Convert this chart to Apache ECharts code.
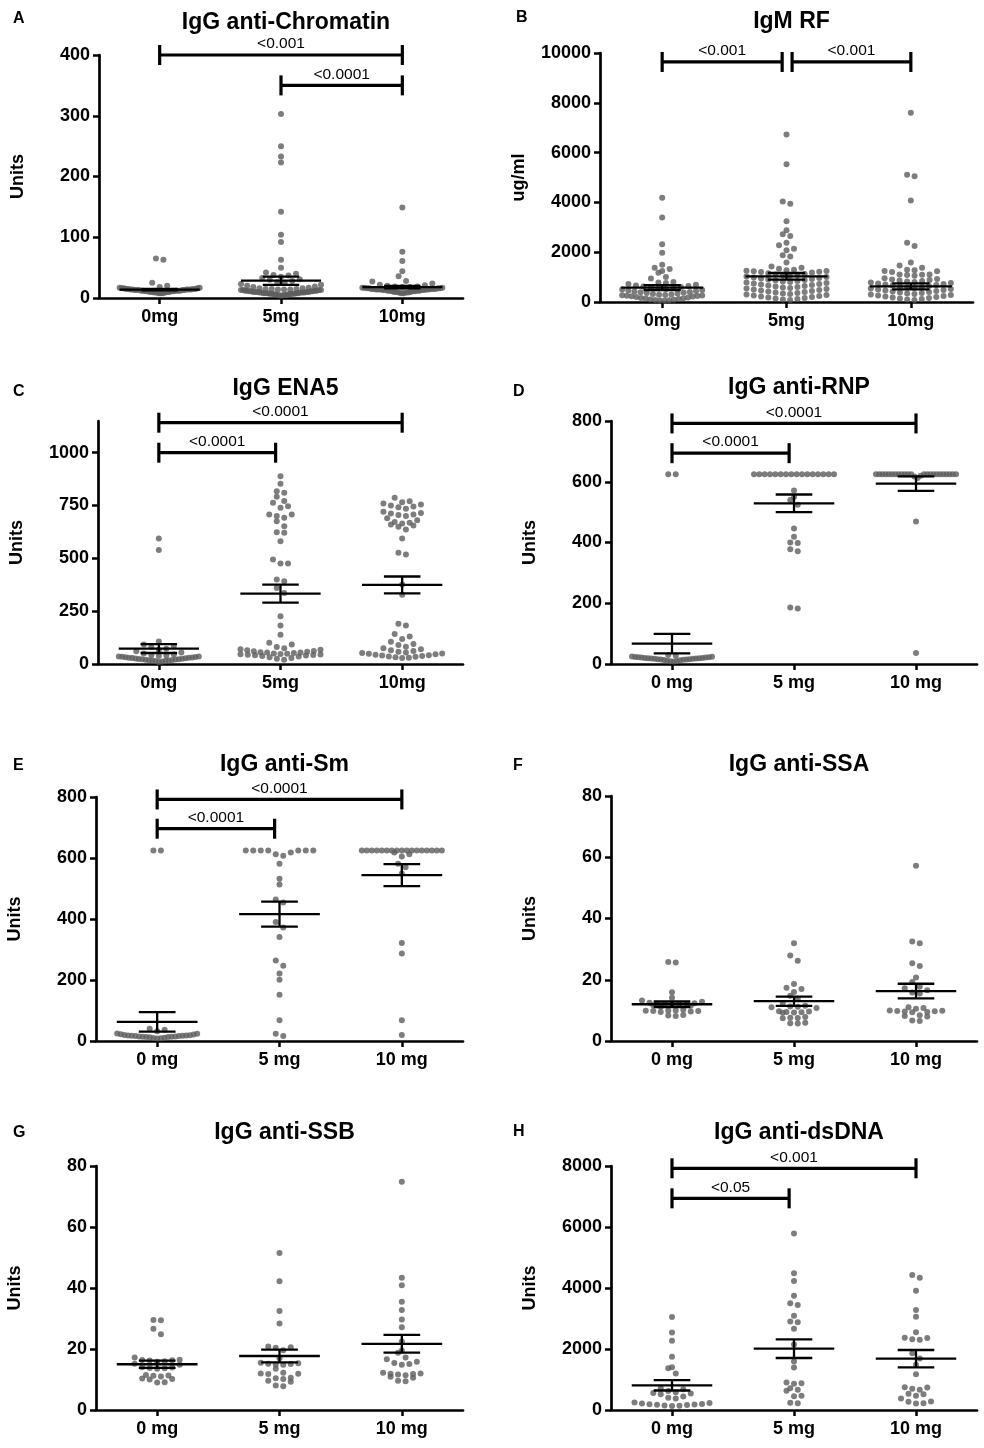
<!DOCTYPE html>
<html>
<head>
<meta charset="utf-8"/>
<script src="https://cdn.jsdelivr.net/npm/echarts@6/dist/echarts.min.js"></script>
<style>
html,body{margin:0;padding:0;background:#fff;}
#chart{width:984px;height:1448px;}
</style>
</head>
<body>
<div id="chart"></div>
<script>
// ---- data ----
var catsMg = ['0mg', '5mg', '10mg'];
var catsSp = ['0 mg', '5 mg', '10 mg'];

// A  IgG anti-Chromatin
var a0 = [65, 63, 25, 20, 18, 17, 17, 16, 16, 16, 15, 15, 15, 15, 14, 14, 14, 14, 14, 13, 13, 13, 13, 13, 12, 12, 12, 12, 12, 11, 11, 11, 11, 10, 10, 10, 10, 9, 9, 9, 8, 8, 8];
var a5 = [303, 250, 233, 223, 142, 104, 92, 63, 50, 42, 40, 38, 37, 35, 33, 31, 30, 28, 26, 25, 23, 22, 20, 19, 18, 17, 16, 16, 15, 15, 15, 14, 14, 14, 13, 13, 13, 13, 12, 12, 12, 12, 11, 11, 11, 11, 10, 10, 10, 10, 10, 9, 9, 9, 9, 9, 8, 8, 8, 8, 8, 7, 7, 7, 7, 6, 6, 6, 6, 5, 5, 5, 4, 4];
var a10 = [149, 76, 61, 44, 36, 28, 27, 24, 22, 21, 20, 19, 19, 18, 18, 17, 17, 17, 16, 16, 16, 16, 15, 15, 15, 15, 15, 14, 14, 14, 14, 14, 13, 13, 13, 13, 12, 12, 12, 12, 11, 11, 11, 10, 10, 10, 9, 9, 9, 8, 8];
var meanA = [13.7, 28.5, 18];
var semA = [1.3, 6.8, 2];
var brA = [[0, 2, 400], [1, 2, 350]];
var pA = ['<0.001', '<0.0001'];
var ticksA = [0, 100, 200, 300, 400];

// B  IgM RF
var b0 = [4190, 3390, 2320, 1980, 1500, 1380, 1330, 1250, 1170, 1000, 940, 800, 780, 760, 720, 690, 660, 640, 620, 600, 580, 560, 540, 520, 500, 480, 460, 440, 420, 400, 390, 380, 360, 340, 320, 300, 290, 280, 270, 260, 250, 240, 230, 220, 200, 180, 160, 150, 140, 120, 100, 90, 80, 70, 60, 50];
var b5 = [6730, 5530, 4040, 3950, 3240, 2880, 2720, 2650, 2380, 2280, 2140, 2080, 1880, 1830, 1590, 1430, 1380, 1340, 1300, 1280, 1260, 1250, 1230, 1210, 1200, 1180, 1150, 1120, 1100, 1080, 1060, 1040, 1020, 1000, 980, 960, 940, 920, 900, 880, 860, 840, 820, 800, 780, 760, 740, 720, 700, 680, 660, 640, 620, 600, 580, 560, 540, 520, 500, 480, 460, 440, 420, 400, 380, 360, 340, 320, 300, 280, 260, 240, 220, 200, 180, 160, 140, 120, 100, 80];
var b10 = [7600, 5110, 5050, 4080, 2380, 2250, 1590, 1470, 1380, 1300, 1280, 1250, 1230, 1200, 1100, 1100, 1090, 1080, 1050, 950, 920, 900, 880, 860, 840, 820, 800, 780, 760, 740, 720, 700, 680, 660, 640, 620, 600, 580, 560, 540, 520, 500, 480, 460, 440, 420, 400, 380, 360, 340, 320, 300, 280, 260, 240, 220, 200, 180, 160, 140, 120, 100, 80];
var meanB = [575, 1030, 630];
var semB = [100, 135, 120];
var brB = [[0, 0.965, 9640], [1.045, 2, 9640]];
var pB = ['<0.001', '<0.001'];
var ticksB = [0, 2000, 4000, 6000, 8000, 10000];

// C  IgG ENA5
var c0 = [594, 540, 106, 92, 85, 80, 72, 68, 60, 55, 50, 45, 42, 40, 38, 36, 35, 34, 33, 32, 31, 30, 29, 28, 27, 26, 25, 24, 23, 22, 21, 20, 19, 18, 17, 16, 15, 14, 12, 10];
var c5 = [889, 853, 818, 810, 791, 771, 763, 747, 739, 708, 708, 700, 692, 676, 652, 624, 621, 581, 494, 476, 476, 400, 392, 360, 336, 226, 182, 139, 100, 92, 80, 75, 70, 68, 65, 62, 60, 58, 56, 55, 54, 52, 50, 48, 47, 46, 45, 44, 43, 42, 40, 38, 35, 32, 28, 25, 20];
var c10 = [787, 770, 765, 760, 755, 750, 745, 742, 735, 720, 715, 712, 708, 705, 700, 690, 680, 672, 668, 665, 660, 655, 650, 637, 594, 526, 518, 376, 328, 190, 182, 142, 130, 118, 105, 95, 90, 82, 75, 70, 65, 62, 58, 55, 52, 50, 48, 46, 44, 42, 40, 38, 36, 34, 32, 30, 28];
var meanC = [73, 333, 374];
var semC = [21, 43, 40];
var brC = [[0, 2, 1142], [0, 0.96, 1000]];
var pC = ['<0.0001', '<0.0001'];
var ticksC = [0, 250, 500, 750, 1000];

// D  IgG anti-RNP
var d0 = [625, 625, 30, 27, 25, 24, 23, 22, 22, 21, 21, 20, 20, 19, 19, 18, 18, 17, 17, 16, 16, 15, 15, 14, 13, 12, 11, 10, 9, 8];
var d5 = [625, 625, 625, 625, 625, 625, 625, 625, 625, 625, 625, 625, 625, 625, 625, 625, 571, 550, 540, 524, 446, 419, 400, 398, 378, 371, 186, 183];
var d10 = [625, 625, 625, 625, 625, 625, 625, 625, 625, 625, 625, 625, 625, 625, 625, 625, 625, 625, 625, 625, 625, 625, 625, 620, 617, 612, 469, 36];
var meanD = [67, 529, 594];
var semD = [32, 29, 24];
var brD = [[0, 2, 792], [0, 0.96, 694]];
var pD = ['<0.0001', '<0.0001'];
var ticksD = [0, 200, 400, 600, 800];

// E  IgG anti-Sm
var e0 = [625, 625, 40, 37, 32, 25, 24, 22, 21, 20, 19, 18, 18, 17, 17, 16, 16, 15, 15, 14, 14, 13, 13, 12, 11, 10, 9, 8];
var e5 = [625, 625, 625, 625, 625, 625, 625, 618, 612, 607, 581, 532, 513, 464, 454, 390, 372, 341, 264, 247, 221, 201, 152, 68, 24, 16];
var e10 = [625, 625, 625, 625, 625, 625, 625, 625, 625, 625, 625, 625, 625, 625, 625, 625, 625, 618, 612, 605, 581, 570, 549, 321, 287, 68, 20];
var meanE = [63, 416, 544];
var semE = [32, 41, 36];
var brE = [[0, 2, 792], [0, 0.96, 696]];
var pE = ['<0.0001', '<0.0001'];
var ticksE = [0, 200, 400, 600, 800];

// F  IgG anti-SSA
var f0 = [25.8, 25.6, 15.9, 14.1, 13.2, 12.8, 12.5, 12.3, 12.2, 12.1, 12.0, 11.9, 11.8, 11.7, 11.5, 11.2, 10.2, 10.0, 10.0, 9.9, 9.8, 9.8, 9.6, 9.5, 8.5, 8.3, 8.2];
var f5 = [31.9, 27.9, 26.2, 18.6, 17.4, 17.0, 16.0, 14.8, 13.8, 12.4, 11.5, 11.3, 11.2, 11.0, 10.8, 9.7, 9.6, 9.5, 9.4, 9.3, 9.2, 7.8, 7.6, 7.5, 7.4, 6.0, 5.8, 5.7];
var f10 = [57.2, 32.5, 31.9, 25.4, 24.5, 20.7, 19.3, 17.7, 17.2, 16.6, 15.8, 15.5, 11.0, 10.8, 10.5, 10.0, 9.9, 9.8, 9.7, 9.6, 9.5, 9.4, 8.4, 8.2, 8.0, 6.7, 6.5];
var meanF = [12.0, 13.0, 16.3];
var semF = [0.9, 1.5, 2.4];
var ticksF = [0, 20, 40, 60, 80];

// G  IgG anti-SSB
var g0 = [29.5, 29.4, 26.6, 24.8, 17.2, 16.5, 16.4, 16.3, 16.2, 16.0, 15.8, 15.2, 14.8, 14.0, 13.9, 13.8, 13.7, 13.5, 11.5, 11.3, 11.2, 11.0, 10.3, 10.2, 10.0, 9.1, 9.0];
var g5 = [51.5, 42.2, 32.5, 28.4, 20.8, 20.6, 20.4, 19.6, 17.0, 15.5, 15.3, 15.2, 15.1, 14.9, 14.8, 13.5, 12.2, 12.0, 11.9, 11.8, 10.6, 10.4, 10.2, 9.6, 9.3, 8.0, 7.8];
var g10 = [74.8, 43.4, 40.9, 35.5, 32.8, 29.7, 27.1, 22.5, 19.5, 18.8, 17.2, 16.6, 15.8, 15.4, 15.1, 14.8, 12.2, 12.0, 11.9, 11.8, 11.6, 11.4, 10.9, 10.6, 9.6, 9.4];
var meanG = [15.0, 17.7, 21.7];
var semG = [1.2, 2.1, 2.9];
var ticksG = [0, 20, 40, 60, 80];

// H  IgG anti-dsDNA
var h0 = [3050, 2540, 2270, 1750, 1400, 1370, 1200, 710, 680, 620, 580, 560, 540, 520, 440, 400, 380, 250, 230, 210, 200, 190, 180, 170, 160, 150, 140, 130];
var h5 = [5790, 4480, 4230, 3750, 3500, 3440, 3090, 2900, 2880, 2660, 2150, 1590, 1390, 900, 880, 860, 710, 660, 630, 470, 450, 240, 220];
var h10 = [4430, 4340, 3910, 3280, 3060, 2550, 2370, 2360, 2320, 2300, 1860, 1690, 1480, 1170, 750, 740, 700, 660, 530, 520, 470, 380, 280, 270, 220, 210];
var meanH = [809, 2011, 1683];
var semH = [170, 306, 284];
var brH = [[0, 2, 7925], [0, 0.96, 6940]];
var pH = ['<0.001', '<0.05'];
var ticksH = [0, 2000, 4000, 6000, 8000];

// ---- layout ----
var FONT = 'Arial, "Liberation Sans", sans-serif';
var DOT = 6;         // dot diameter px
var ROWH = 5.5;      // height of one row bin, px
var STEP = 7.5;      // spacing of dots inside a row, px
var MAXHALF = 40;    // widest half-spread of a row, px

var panels = [
  {letter: 'A', title: 'IgG anti-Chromatin', yname: 'Units', cats: catsMg, groups: [a0, a5, a10], mean: meanA, sem: semA, br: brA, p: pA, ticks: ticksA, ymax: 400,
   grid: {left: 99, top: 55, width: 364, height: 243}, lx: 8, ly: 6, ty: 6},
  {letter: 'B', title: 'IgM RF', yname: 'ug/ml', cats: catsMg, groups: [b0, b5, b10], mean: meanB, sem: semB, br: brB, p: pB, ticks: ticksB, ymax: 10000,
   grid: {left: 600, top: 53, width: 373, height: 249}, lx: 511, ly: 5, ty: 5},
  {letter: 'C', title: 'IgG ENA5', yname: 'Units', cats: catsMg, groups: [c0, c5, c10], mean: meanC, sem: semC, br: brC, p: pC, ticks: ticksC, ymax: 1150,
   grid: {left: 98, top: 421, width: 365, height: 243}, lx: 8, ly: 379, ty: 372},
  {letter: 'D', title: 'IgG anti-RNP', yname: 'Units', cats: catsSp, groups: [d0, d5, d10], mean: meanD, sem: semD, br: brD, p: pD, ticks: ticksD, ymax: 800,
   grid: {left: 611, top: 421, width: 366, height: 243}, lx: 508, ly: 379, ty: 371},
  {letter: 'E', title: 'IgG anti-Sm', yname: 'Units', cats: catsSp, groups: [e0, e5, e10], mean: meanE, sem: semE, br: brE, p: pE, ticks: ticksE, ymax: 800,
   grid: {left: 96, top: 797, width: 367, height: 244}, lx: 8, ly: 753, ty: 748},
  {letter: 'F', title: 'IgG anti-SSA', yname: 'Units', cats: catsSp, groups: [f0, f5, f10], mean: meanF, sem: semF, br: null, p: null, ticks: ticksF, ymax: 80,
   grid: {left: 611, top: 796, width: 366, height: 245}, lx: 508, ly: 753, ty: 748},
  {letter: 'G', title: 'IgG anti-SSB', yname: 'Units', cats: catsSp, groups: [g0, g5, g10], mean: meanG, sem: semG, br: null, p: null, ticks: ticksG, ymax: 80,
   grid: {left: 96, top: 1166, width: 367, height: 244}, lx: 8, ly: 1120, ty: 1116},
  {letter: 'H', title: 'IgG anti-dsDNA', yname: 'Units', cats: catsSp, groups: [h0, h5, h10], mean: meanH, sem: semH, br: brH, p: pH, ticks: ticksH, ymax: 8000,
   grid: {left: 611, top: 1166, width: 366, height: 244}, lx: 508, ly: 1119, ty: 1116}
];

// GraphPad-like column scatter: values binned into rows, each row spread
// out from the centre (lowest value in the middle)
function swarm(vals, cx, grid, ymax) {
  var pyu = grid.height / ymax;
  var pxu = grid.width / 3;
  var sorted = vals.slice().sort(function (a, b) { return a - b; });
  var rows = [], cur = null;
  sorted.forEach(function (v) {
    if (!cur || (v - cur[0]) * pyu > ROWH) { cur = []; rows.push(cur); }
    cur.push(v);
  });
  var out = [];
  rows.forEach(function (r) {
    var n = r.length;
    var step = n > 1 ? Math.min(STEP, 2 * MAXHALF / (n - 1)) : 0;
    var slots = [];
    for (var j = 0; j < n; j++) slots.push((j - (n - 1) / 2) * step);
    slots.sort(function (a, b) { return Math.abs(a) - Math.abs(b) || b - a; });
    for (var i = 0; i < n; i++) out.push([cx + slots[i] / pxu, r[i]]);
  });
  return out;
}

function meanItem(params, api) {
  var x = api.value(0), m = api.value(1), s = api.value(2);
  var st = {stroke: '#000', lineWidth: 2.3};
  function seg(x1, y1, x2, y2) {
    var p = api.coord([x1, y1]), q = api.coord([x2, y2]);
    return {type: 'line', shape: {x1: p[0], y1: p[1], x2: q[0], y2: q[1]}, style: st};
  }
  return {type: 'group', children: [
    seg(x - 0.33, m, x + 0.33, m),
    seg(x - 0.15, m + s, x + 0.15, m + s),
    seg(x - 0.15, m - s, x + 0.15, m - s),
    seg(x, m - s, x, m + s)
  ]};
}

function bracketItem(labels) {
  return function (params, api) {
    var a = api.coord([api.value(0), api.value(2)]);
    var b = api.coord([api.value(1), api.value(2)]);
    var st = {stroke: '#000', lineWidth: 3.2};
    return {type: 'group', children: [
      {type: 'line', shape: {x1: a[0], y1: a[1], x2: b[0], y2: b[1]}, style: st},
      {type: 'line', shape: {x1: a[0], y1: a[1] - 10, x2: a[0], y2: a[1] + 10}, style: st},
      {type: 'line', shape: {x1: b[0], y1: b[1] - 10, x2: b[0], y2: b[1] + 10}, style: st},
      {type: 'text', style: {text: labels[params.dataIndex], x: (a[0] + b[0]) / 2, y: a[1] - 11,
        align: 'center', verticalAlign: 'middle', font: '15.5px ' + FONT, fill: '#000'}}
    ]};
  };
}

var option = {
  backgroundColor: '#fff',
  animation: false,
  textStyle: {fontFamily: FONT},
  title: [], grid: [], xAxis: [], yAxis: [], series: []
};

panels.forEach(function (pn, i) {
  var g = pn.grid;
  var cxMid = g.left + g.width / 2;
  option.title.push({text: pn.title, left: cxMid, top: pn.ty, textAlign: 'center',
    textStyle: {fontFamily: FONT, fontSize: 23, fontWeight: 'bold', color: '#000'}});
  option.title.push({text: pn.letter, left: pn.lx, top: pn.ly,
    textStyle: {fontFamily: FONT, fontSize: 16, fontWeight: 'bold', color: '#000'}});
  option.grid.push({left: g.left, top: g.top, width: g.width, height: g.height, containLabel: false});
  option.xAxis.push({
    type: 'value', gridIndex: i, min: -0.5, max: 2.5,
    splitLine: {show: false},
    axisLine: {show: true, onZero: false, lineStyle: {color: '#000', width: 2.7}},
    axisTick: {show: true, customValues: [0, 1, 2], length: 6, lineStyle: {color: '#000', width: 2.5}},
    axisLabel: {customValues: [0, 1, 2], margin: 10, color: '#000', fontSize: 18, fontWeight: 'bold', fontFamily: FONT,
      formatter: function (v) { return pn.cats[Math.round(v)]; }}
  });
  option.yAxis.push({
    type: 'value', gridIndex: i, min: 0, max: pn.ymax,
    name: pn.yname, nameLocation: 'middle', nameGap: 72, nameRotate: 90,
    nameTextStyle: {color: '#000', fontSize: 18, fontWeight: 'bold', fontFamily: FONT},
    splitLine: {show: false},
    axisLine: {show: true, onZero: false, lineStyle: {color: '#000', width: 2.7}},
    axisTick: {show: true, customValues: pn.ticks, length: 6, lineStyle: {color: '#000', width: 2.5}},
    axisLabel: {customValues: pn.ticks, margin: 9, color: '#000', fontSize: 18, fontWeight: 'bold', fontFamily: FONT,
      formatter: function (v) { return String(v); }}
  });
  var pts = [];
  pn.groups.forEach(function (vals, k) { pts = pts.concat(swarm(vals, k, g, pn.ymax)); });
  option.series.push({
    type: 'scatter', xAxisIndex: i, yAxisIndex: i, data: pts,
    symbolSize: DOT, itemStyle: {color: '#5c5c5c'}, silent: true
  });
  option.series.push({
    type: 'custom', xAxisIndex: i, yAxisIndex: i, renderItem: meanItem, silent: true, z: 3,
    data: pn.mean.map(function (m, k) { return [k, m, pn.sem[k]]; })
  });
  if (pn.br) {
    option.series.push({
      type: 'custom', xAxisIndex: i, yAxisIndex: i, renderItem: bracketItem(pn.p), silent: true, z: 3, clip: false,
      data: pn.br
    });
  }
});

var chart = echarts.init(document.getElementById('chart'));
chart.setOption(option);
</script>
</body>
</html>
